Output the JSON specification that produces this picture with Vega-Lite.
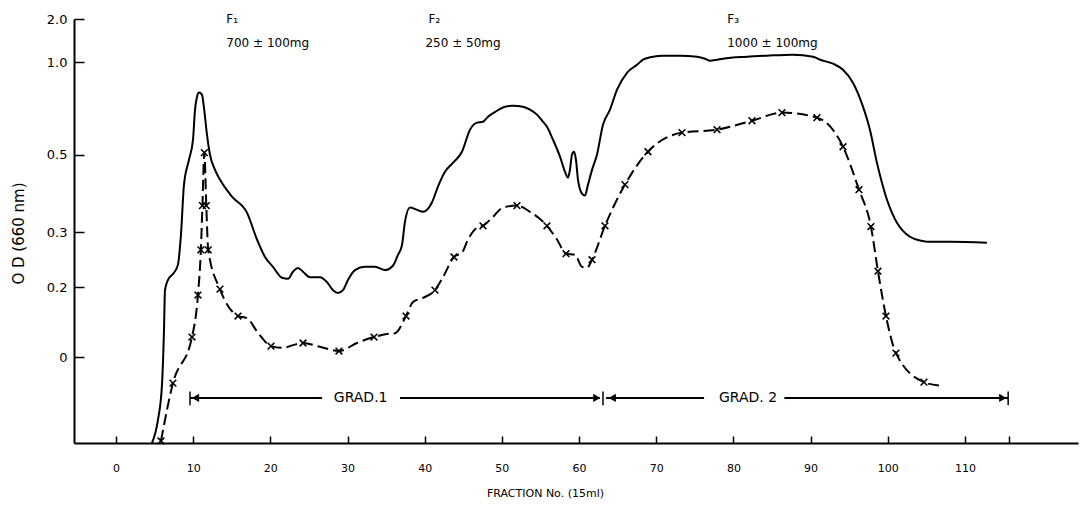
{
  "$schema": "https://vega.github.io/schema/vega-lite/v6.json",
  "width": 1004,
  "height": 424,
  "autosize": {"type": "none"},
  "padding": {"left": 74, "top": 19, "right": 2, "bottom": 64},
  "config": {"view": {"stroke": null}, "font": "DejaVu Sans"},
  "datasets": {
    "solid": [
      {"x": 4.66, "y": -0.25}, {"x": 5.44, "y": -0.183}, {"x": 5.96, "y": -0.081}, {"x": 6.22, "y": 0.077},
      {"x": 6.35, "y": 0.191}, {"x": 6.74, "y": 0.213}, {"x": 7.51, "y": 0.226}, {"x": 8.03, "y": 0.241},
      {"x": 8.42, "y": 0.296}, {"x": 8.81, "y": 0.423}, {"x": 9.46, "y": 0.487}, {"x": 9.98, "y": 0.581},
      {"x": 10.24, "y": 0.743}, {"x": 10.5, "y": 0.813}, {"x": 10.75, "y": 0.835}, {"x": 11.14, "y": 0.824},
      {"x": 11.4, "y": 0.754}, {"x": 11.79, "y": 0.608}, {"x": 12.18, "y": 0.5}, {"x": 12.83, "y": 0.461},
      {"x": 13.47, "y": 0.436}, {"x": 15.03, "y": 0.392}, {"x": 16.97, "y": 0.351}, {"x": 18.27, "y": 0.287},
      {"x": 19.31, "y": 0.255}, {"x": 20.34, "y": 0.237}, {"x": 21.51, "y": 0.217}, {"x": 22.29, "y": 0.215},
      {"x": 22.93, "y": 0.228}, {"x": 23.58, "y": 0.235}, {"x": 24.23, "y": 0.228}, {"x": 25.14, "y": 0.218},
      {"x": 26.43, "y": 0.218}, {"x": 27.34, "y": 0.209}, {"x": 28.12, "y": 0.191}, {"x": 28.76, "y": 0.183},
      {"x": 29.41, "y": 0.191}, {"x": 30.06, "y": 0.213}, {"x": 30.97, "y": 0.231}, {"x": 32.26, "y": 0.237},
      {"x": 33.56, "y": 0.237}, {"x": 34.85, "y": 0.231}, {"x": 35.88, "y": 0.239}, {"x": 36.54, "y": 0.259},
      {"x": 37.06, "y": 0.277}, {"x": 37.45, "y": 0.328}, {"x": 38.09, "y": 0.364}, {"x": 39.0, "y": 0.358},
      {"x": 39.78, "y": 0.353}, {"x": 40.94, "y": 0.377}, {"x": 41.72, "y": 0.418}, {"x": 42.63, "y": 0.456},
      {"x": 43.66, "y": 0.479}, {"x": 44.83, "y": 0.516}, {"x": 45.87, "y": 0.635}, {"x": 46.77, "y": 0.673},
      {"x": 47.55, "y": 0.678}, {"x": 48.2, "y": 0.705}, {"x": 49.37, "y": 0.737}, {"x": 50.4, "y": 0.759},
      {"x": 51.44, "y": 0.764}, {"x": 52.73, "y": 0.759}, {"x": 53.64, "y": 0.743}, {"x": 54.55, "y": 0.716},
      {"x": 55.32, "y": 0.678}, {"x": 55.84, "y": 0.651}, {"x": 56.62, "y": 0.581}, {"x": 57.53, "y": 0.495},
      {"x": 58.18, "y": 0.456}, {"x": 58.56, "y": 0.441}, {"x": 58.82, "y": 0.461}, {"x": 59.08, "y": 0.5},
      {"x": 59.34, "y": 0.516}, {"x": 59.6, "y": 0.487}, {"x": 59.86, "y": 0.436}, {"x": 60.38, "y": 0.4},
      {"x": 60.77, "y": 0.395}, {"x": 61.16, "y": 0.423}, {"x": 61.68, "y": 0.461}, {"x": 62.32, "y": 0.5},
      {"x": 63.1, "y": 0.662}, {"x": 64.01, "y": 0.743}, {"x": 64.92, "y": 0.851}, {"x": 66.21, "y": 0.942},
      {"x": 67.51, "y": 0.985}, {"x": 68.29, "y": 1.053}, {"x": 69.58, "y": 1.123}, {"x": 70.87, "y": 1.147},
      {"x": 73.08, "y": 1.147}, {"x": 75.28, "y": 1.123}, {"x": 76.32, "y": 1.077}, {"x": 76.97, "y": 1.03},
      {"x": 77.88, "y": 1.053}, {"x": 78.65, "y": 1.077}, {"x": 81.76, "y": 1.123}, {"x": 84.35, "y": 1.147},
      {"x": 87.72, "y": 1.17}, {"x": 90.31, "y": 1.123}, {"x": 91.22, "y": 1.053}, {"x": 92.9, "y": 0.991},
      {"x": 94.2, "y": 0.958}, {"x": 95.49, "y": 0.888}, {"x": 96.79, "y": 0.759}, {"x": 97.69, "y": 0.635},
      {"x": 98.6, "y": 0.479}, {"x": 99.25, "y": 0.428}, {"x": 99.9, "y": 0.384}, {"x": 100.54, "y": 0.351},
      {"x": 101.19, "y": 0.325}, {"x": 101.97, "y": 0.304}, {"x": 102.88, "y": 0.292}, {"x": 104.17, "y": 0.285},
      {"x": 105.08, "y": 0.283}, {"x": 108.06, "y": 0.283}, {"x": 112.85, "y": 0.281}
    ],
    "dashed": [
      {"x": 5.83, "y": -0.244, "m": true}, {"x": 7.38, "y": -0.076, "m": true}, {"x": 9.85, "y": 0.057, "m": true},
      {"x": 10.62, "y": 0.177, "m": true}, {"x": 11.0, "y": 0.268, "m": true}, {"x": 11.2, "y": 0.369, "m": true},
      {"x": 11.45, "y": 0.511, "m": true}, {"x": 11.7, "y": 0.369, "m": true}, {"x": 11.95, "y": 0.268, "m": true},
      {"x": 13.47, "y": 0.194, "m": true}, {"x": 15.81, "y": 0.117, "m": true}, {"x": 16.97, "y": 0.111, "m": false},
      {"x": 18.4, "y": 0.069, "m": false}, {"x": 20.08, "y": 0.031, "m": true}, {"x": 21.64, "y": 0.026, "m": false},
      {"x": 22.93, "y": 0.034, "m": false}, {"x": 24.23, "y": 0.04, "m": true}, {"x": 26.43, "y": 0.029, "m": false},
      {"x": 28.89, "y": 0.017, "m": true}, {"x": 31.23, "y": 0.04, "m": false}, {"x": 33.43, "y": 0.057, "m": true},
      {"x": 35.11, "y": 0.066, "m": false}, {"x": 36.15, "y": 0.068, "m": false}, {"x": 37.58, "y": 0.117, "m": true},
      {"x": 38.48, "y": 0.157, "m": false}, {"x": 39.78, "y": 0.169, "m": false}, {"x": 41.33, "y": 0.191, "m": true},
      {"x": 42.37, "y": 0.218, "m": false}, {"x": 43.79, "y": 0.255, "m": true}, {"x": 44.83, "y": 0.263, "m": false},
      {"x": 45.61, "y": 0.287, "m": false}, {"x": 46.77, "y": 0.312, "m": false}, {"x": 47.55, "y": 0.317, "m": true},
      {"x": 48.85, "y": 0.34, "m": false}, {"x": 50.14, "y": 0.364, "m": false}, {"x": 51.96, "y": 0.369, "m": true},
      {"x": 53.64, "y": 0.353, "m": false}, {"x": 55.84, "y": 0.317, "m": true}, {"x": 57.14, "y": 0.287, "m": false},
      {"x": 58.31, "y": 0.261, "m": true}, {"x": 59.47, "y": 0.259, "m": false}, {"x": 60.38, "y": 0.237, "m": false},
      {"x": 61.03, "y": 0.235, "m": false}, {"x": 61.68, "y": 0.25, "m": true}, {"x": 63.36, "y": 0.317, "m": true},
      {"x": 65.95, "y": 0.423, "m": true}, {"x": 68.93, "y": 0.516, "m": true}, {"x": 73.34, "y": 0.619, "m": true},
      {"x": 77.88, "y": 0.635, "m": true}, {"x": 82.41, "y": 0.683, "m": true}, {"x": 86.29, "y": 0.727, "m": true},
      {"x": 90.83, "y": 0.7, "m": true}, {"x": 94.2, "y": 0.543, "m": true}, {"x": 96.27, "y": 0.41, "m": true},
      {"x": 97.82, "y": 0.315, "m": true}, {"x": 98.73, "y": 0.229, "m": true}, {"x": 99.77, "y": 0.117, "m": true},
      {"x": 101.06, "y": 0.011, "m": true}, {"x": 104.69, "y": -0.073, "m": true}, {"x": 107.02, "y": -0.084, "m": false}
    ],
    "grad": [
      {"x": 9.59, "x2": 26.7, "y": -0.119}, {"x": 36.8, "x2": 62.7, "y": -0.119},
      {"x": 63.5, "x2": 76.2, "y": -0.119}, {"x": 86.6, "x2": 115.6, "y": -0.119}
    ],
    "bars": [
      {"x": 9.59, "y": -0.1, "y2": -0.14}, {"x": 63.1, "y": -0.1, "y2": -0.14}, {"x": 115.6, "y": -0.1, "y2": -0.14}
    ],
    "heads": [
      {"x": 10.3, "y": -0.119, "dir": "left"}, {"x": 62.3, "y": -0.119, "dir": "right"},
      {"x": 64.3, "y": -0.119, "dir": "left"}, {"x": 114.9, "y": -0.119, "dir": "right"}
    ],
    "notes": [
      {"x": 14.3, "y": 2.0, "label": "F₁"}, {"x": 14.3, "y": 1.449, "label": "700 ± 100mg"},
      {"x": 40.5, "y": 2.0, "label": "F₂"}, {"x": 40.1, "y": 1.449, "label": "250 ± 50mg"},
      {"x": 79.2, "y": 2.0, "label": "F₃"}, {"x": 79.2, "y": 1.449, "label": "1000 ± 100mg"}
    ],
    "gradtext": [
      {"x": 31.7, "y": -0.119, "label": "GRAD.1"}, {"x": 81.9, "y": -0.119, "label": "GRAD. 2"}
    ]
  },
  "layer": [
    {
      "data": {"name": "solid"},
      "mark": {"type": "line", "color": "black", "strokeWidth": 2, "interpolate": "monotone"},
      "encoding": {
        "x": {
          "field": "x", "type": "quantitative",
          "scale": {"domain": [-5.44, 124.65], "nice": false, "zero": false},
          "axis": {
            "values": [0, 10, 20, 30, 40, 50, 60, 70, 80, 90, 100, 110, 115.7],
            "labelExpr": "datum.value > 112 ? '' : datum.label",
            "grid": false, "tickSize": -7, "tickWidth": 1.5, "tickColor": "black",
            "domainColor": "black", "domainWidth": 2,
            "labelColor": "black", "labelFontSize": 11, "labelPadding": 26, "labelFont": "DejaVu Sans",
            "title": "FRACTION No. (15ml)", "titleFontSize": 11, "titleFontWeight": "normal", "titleColor": "black",
            "titleX": 471, "titleY": 50, "titleBaseline": "middle", "titleAnchor": "middle"
          }
        },
        "y": {
          "field": "y", "type": "quantitative",
          "scale": {"domain": [-0.25, 0, 0.2, 0.3, 0.5, 1, 2], "range": [424, 338, 268, 213.4, 135.7, 43, 0], "nice": false, "zero": false},
          "axis": {
            "values": [0, 0.2, 0.3, 0.5, 1, 2],
            "labelExpr": "datum.value == 0 ? '0' : format(datum.value, '.1f')",
            "grid": false, "tickSize": -10, "tickWidth": 1.5, "tickColor": "black",
            "domainColor": "black", "domainWidth": 2,
            "labelColor": "black", "labelFontSize": 13, "labelPadding": 17, "labelFont": "DejaVu Sans",
            "title": "O D (660 nm)", "titleFontSize": 15, "titleFontWeight": "normal", "titleColor": "black",
            "titleX": -56, "titleY": 214, "titleAngle": -90, "titleBaseline": "middle", "titleAlign": "center"
          }
        }
      }
    },
    {
      "data": {"name": "dashed"},
      "mark": {"type": "line", "color": "black", "strokeWidth": 2, "interpolate": "monotone", "strokeDash": [11, 5]},
      "encoding": {"x": {"field": "x", "type": "quantitative"}, "y": {"field": "y", "type": "quantitative"}}
    },
    {
      "data": {"name": "dashed"},
      "transform": [{"filter": "datum.m"}],
      "mark": {"type": "point", "shape": "M-1,-1L1,1M-1,1L1,-1", "filled": false, "stroke": "black", "strokeWidth": 1.6, "size": 45, "opacity": 1},
      "encoding": {"x": {"field": "x", "type": "quantitative"}, "y": {"field": "y", "type": "quantitative"}}
    },
    {
      "data": {"name": "grad"},
      "mark": {"type": "rule", "color": "black", "strokeWidth": 2},
      "encoding": {"x": {"field": "x", "type": "quantitative"}, "x2": {"field": "x2"}, "y": {"field": "y", "type": "quantitative"}}
    },
    {
      "data": {"name": "bars"},
      "mark": {"type": "rule", "color": "black", "strokeWidth": 1.5},
      "encoding": {"x": {"field": "x", "type": "quantitative"}, "y": {"field": "y", "type": "quantitative"}, "y2": {"field": "y2"}}
    },
    {
      "data": {"name": "heads"},
      "transform": [{"filter": "datum.dir == 'left'"}],
      "mark": {"type": "point", "shape": "triangle-left", "filled": true, "color": "black", "size": 70, "opacity": 1},
      "encoding": {"x": {"field": "x", "type": "quantitative"}, "y": {"field": "y", "type": "quantitative"}}
    },
    {
      "data": {"name": "heads"},
      "transform": [{"filter": "datum.dir == 'right'"}],
      "mark": {"type": "point", "shape": "triangle-right", "filled": true, "color": "black", "size": 70, "opacity": 1},
      "encoding": {"x": {"field": "x", "type": "quantitative"}, "y": {"field": "y", "type": "quantitative"}}
    },
    {
      "data": {"name": "notes"},
      "mark": {"type": "text", "align": "left", "baseline": "middle", "fontSize": 12, "color": "black", "font": "DejaVu Sans"},
      "encoding": {"x": {"field": "x", "type": "quantitative"}, "y": {"field": "y", "type": "quantitative"}, "text": {"field": "label"}}
    },
    {
      "data": {"name": "gradtext"},
      "mark": {"type": "text", "align": "center", "baseline": "middle", "fontSize": 14, "color": "black", "font": "DejaVu Sans"},
      "encoding": {"x": {"field": "x", "type": "quantitative"}, "y": {"field": "y", "type": "quantitative"}, "text": {"field": "label"}}
    }
  ]
}
